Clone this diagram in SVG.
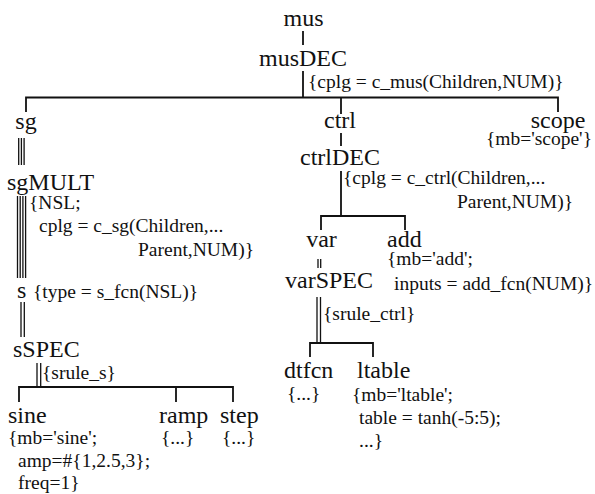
<svg xmlns="http://www.w3.org/2000/svg" width="595" height="494" viewBox="0 0 595 494">
  <style>
    text { font-family: "Liberation Serif", "Times New Roman", Times, "DejaVu Serif", serif; fill: #111; }
    .n { font-size: 24px; }
    .a { font-size: 19.5px; }
    .e { fill: none; stroke: #111; stroke-width: 1.8; }
    .m { fill: none; stroke: #111; stroke-width: 1.3; }
  </style>
  <rect width="595" height="494" fill="#fff"/>

  <g id="connectors">
    <!-- mus -> musDEC -->
    <path class="e" d="M303 31V45"/>
    <!-- musDEC fan-out -->
    <path class="e" d="M303 71V97.5M26 112V97.5H558V112M341 97.5V114"/>
    <!-- ctrl -> ctrlDEC -->
    <path class="e" d="M341 133V146"/>
    <!-- ctrlDEC fan-out -->
    <path class="e" d="M341 171V216M321 230V216H405V230"/>
    <!-- var -> varSPEC (double) -->
    <path class="m" d="M318 259V268M320.7 259V268"/>
    <!-- varSPEC fan-out (double stem) -->
    <path class="m" d="M317 297V343M320.5 297V343"/>
    <path class="e" d="M310 357V343H373V357"/>
    <!-- sg -> sgMULT (triple) -->
    <path class="m" d="M18.7 138V165M21.4 138V165M24.1 138V165"/>
    <!-- sgMULT -> s (quadruple) -->
    <path class="m" d="M17.5 196V278M20.2 196V278M22.9 196V278M25.6 196V278"/>
    <!-- s -> sSPEC (double) -->
    <path class="m" d="M21 302V337M24.3 302V337"/>
    <!-- sSPEC fan-out (double stem) -->
    <path class="m" d="M37 363V387M40.7 363V387"/>
    <path class="e" d="M19 402V387H233V402M176 387V402"/>
  </g>

  <g id="mus"><text class="n" x="303.5" y="26" text-anchor="middle">mus</text></g>
  <g id="musDEC">
    <text class="n" x="303" y="66" text-anchor="middle">musDEC</text>
    <text class="a" x="308" y="88">{cplg = c_mus(Children,NUM)}</text>
  </g>

  <g id="sg"><text class="n" x="26" y="129" text-anchor="middle">sg</text></g>
  <g id="sgMULT">
    <text class="n" x="7" y="190">sgMULT</text>
    <text class="a" x="29" y="209">{NSL;</text>
    <text class="a" x="39" y="232">cplg = c_sg(Children,...</text>
    <text class="a" x="138" y="256">Parent,NUM)}</text>
  </g>
  <g id="s">
    <text class="n" x="17" y="298">s</text>
    <text class="a" x="33" y="298">{type = s_fcn(NSL)}</text>
  </g>
  <g id="sSPEC">
    <text class="n" x="13" y="357">sSPEC</text>
    <text class="a" x="42" y="379">{srule_s}</text>
  </g>
  <g id="sine">
    <text class="n" x="8" y="423">sine</text>
    <text class="a" x="8" y="444">{mb='sine';</text>
    <text class="a" x="18" y="467">amp=#{1,2.5,3};</text>
    <text class="a" x="18" y="489">freq=1}</text>
  </g>
  <g id="ramp">
    <text class="n" x="159" y="423">ramp</text>
    <text class="a" x="161" y="444">{...}</text>
  </g>
  <g id="step">
    <text class="n" x="220" y="423">step</text>
    <text class="a" x="222" y="444">{...}</text>
  </g>

  <g id="ctrl"><text class="n" x="340" y="128" text-anchor="middle">ctrl</text></g>
  <g id="ctrlDEC">
    <text class="n" x="340" y="165" text-anchor="middle">ctrlDEC</text>
    <text class="a" x="343" y="184">{cplg = c_ctrl(Children,...</text>
    <text class="a" x="457" y="208">Parent,NUM)}</text>
  </g>
  <g id="var"><text class="n" x="321.5" y="247" text-anchor="middle">var</text></g>
  <g id="varSPEC">
    <text class="n" x="285" y="288">varSPEC</text>
    <text class="a" x="323" y="320">{srule_ctrl}</text>
  </g>
  <g id="add">
    <text class="n" x="387" y="247">add</text>
    <text class="a" x="387" y="265">{mb='add';</text>
    <text class="a" x="394" y="290">inputs = add_fcn(NUM)}</text>
  </g>
  <g id="dtfcn">
    <text class="n" x="284" y="378">dtfcn</text>
    <text class="a" x="287" y="400">{...}</text>
  </g>
  <g id="ltable">
    <text class="n" x="357" y="378">ltable</text>
    <text class="a" x="352" y="401">{mb='ltable';</text>
    <text class="a" x="359" y="423.5">table = tanh(-5:5);</text>
    <text class="a" x="359" y="446.5">...}</text>
  </g>

  <g id="scope">
    <text class="n" x="558" y="128" text-anchor="middle">scope</text>
    <text class="a" x="592" y="145" text-anchor="end">{mb='scope'}</text>
  </g>
</svg>
